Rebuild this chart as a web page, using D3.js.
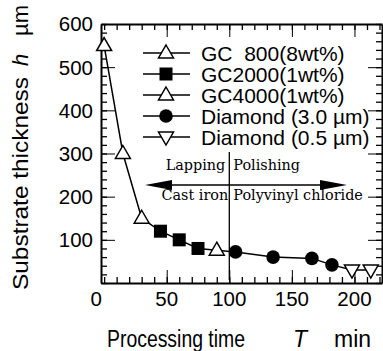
<!DOCTYPE html>
<html>
<head>
<meta charset="utf-8">
<script src="https://cdn.jsdelivr.net/npm/d3@7"></script>
<style>
  body { margin: 0; background: #fff; }
  svg { display: block; }
  text { font-family: "Liberation Sans", Arial, sans-serif; fill: #000; white-space: pre; }
</style>
</head>
<body>
<svg id="chart"></svg>
<script>
const width = 383;
const height = 351;

// series (processing time T min, thickness h um)
const gc800 = [[0, 550], [15, 300], [30, 150]];
const gc2000 = [[45, 120], [60, 100], [75, 80]];
const gc4000 = [[90, 76]];
const dia30 = [[105, 72], [135, 60], [166, 57], [182, 42]];
const dia05 = [[198, 30], [213, 30]];

const legendLabels = ["GC  800(8wt%)", "GC2000(1wt%)", "GC4000(1wt%)", "Diamond (3.0 \u00b5m)", "Diamond (0.5 \u00b5m)"];
const xTicks = [0, 50, 100, 150, 200];
const yTicks = [100, 200, 300, 400, 500, 600];
const boundary = 100;

const svg = d3.select("#chart")
    .attr("width", width)
    .attr("height", height);

const x = d3.scaleLinear().domain([-2.5, 222]).range([101, 382]);
const y = d3.scaleLinear().domain([0, 600]).range([283, 24]);

const series = [
  { data: gc800, shape: "tri" },
  { data: gc2000, shape: "square" },
  { data: gc4000, shape: "tri" },
  { data: dia30, shape: "circle" },
  { data: dia05, shape: "itri" }
];

// axes, ticks pointing inward on all four sides
const xMinor = d3.range(0, 221, 10);
const yMinor = d3.range(0, 601, 20);

function styleAxis(g) {
  g.select(".domain").attr("stroke-width", 2);
  g.selectAll(".tick line").attr("stroke-width", 1.3);
}

svg.append("g").attr("transform", `translate(0,${y(0)})`)
    .call(d3.axisBottom(x).tickValues(xMinor).tickSize(-6).tickFormat("").tickSizeOuter(0))
    .call(styleAxis);
svg.append("g").attr("transform", `translate(0,${y(0)})`)
    .call(d3.axisBottom(x).tickValues(xTicks.slice(1)).tickSize(-13).tickFormat("").tickSizeOuter(0))
    .call(g => g.select(".domain").remove());
svg.append("g").attr("transform", `translate(0,${y(600)})`)
    .call(d3.axisTop(x).tickValues(xMinor).tickSize(-6).tickFormat("").tickSizeOuter(0))
    .call(styleAxis);
svg.append("g").attr("transform", `translate(0,${y(600)})`)
    .call(d3.axisTop(x).tickValues(xTicks.slice(1)).tickSize(-13).tickFormat("").tickSizeOuter(0))
    .call(g => g.select(".domain").remove());

svg.append("g").attr("transform", `translate(${x.range()[0]},0)`)
    .call(d3.axisLeft(y).tickValues(yMinor).tickSize(-6).tickFormat("").tickSizeOuter(0))
    .call(styleAxis);
svg.append("g").attr("transform", `translate(${x.range()[0]},0)`)
    .call(d3.axisLeft(y).tickValues(yTicks).tickSize(-14).tickFormat("").tickSizeOuter(0))
    .call(g => g.select(".domain").remove());
svg.append("g").attr("transform", `translate(${x.range()[1]},0)`)
    .call(d3.axisRight(y).tickValues(yMinor).tickSize(-6).tickFormat("").tickSizeOuter(0))
    .call(styleAxis);
svg.append("g").attr("transform", `translate(${x.range()[1]},0)`)
    .call(d3.axisRight(y).tickValues(yTicks).tickSize(-14).tickFormat("").tickSizeOuter(0))
    .call(g => g.select(".domain").remove());

svg.selectAll("g .tick line").attr("stroke", "#000");
svg.selectAll("g .domain").attr("stroke", "#000");

// tick labels
svg.append("g").selectAll("text")
    .data(yTicks)
    .join("text")
    .attr("x", 93)
    .attr("y", d => y(d))
    .attr("dy", "0.36em")
    .attr("text-anchor", "end")
    .attr("font-size", 20.5)
    .text(d => d);

svg.append("g").selectAll("text")
    .data(xTicks)
    .join("text")
    .attr("x", d => x(d) - (d === 0 ? 8 : 0))
    .attr("y", 306)
    .attr("text-anchor", "middle")
    .attr("font-size", 20.5)
    .text(d => d);

// axis titles
svg.append("text")
    .attr("x", 107)
    .attr("y", 347)
    .attr("font-size", 23)
    .attr("textLength", 138)
    .attr("lengthAdjust", "spacingAndGlyphs")
    .text("Processing time");
svg.append("text")
    .attr("x", 293)
    .attr("y", 347)
    .attr("font-size", 23)
    .attr("font-style", "italic")
    .text("T");
svg.append("text")
    .attr("x", 334)
    .attr("y", 347)
    .attr("font-size", 23)
    .text("min");

const yTitle = svg.append("g").attr("transform", "translate(28,0) rotate(-90)");
yTitle.append("text")
    .attr("x", -290)
    .attr("y", 0)
    .attr("font-size", 22)
    .attr("textLength", 213)
    .attr("lengthAdjust", "spacingAndGlyphs")
    .text("Substrate thickness");
yTitle.append("text")
    .attr("x", -66)
    .attr("y", 0)
    .attr("font-size", 22)
    .attr("font-style", "italic")
    .text("h");
yTitle.append("text")
    .attr("x", -36)
    .attr("y", 0)
    .attr("font-size", 22)
    .text("\u00b5m");

// lapping / polishing annotation
svg.append("line")
    .attr("x1", x(boundary)).attr("x2", x(boundary))
    .attr("y1", 152).attr("y2", 280)
    .attr("stroke", "#000").attr("stroke-width", 1.3);

const ann = svg.append("g").attr("font-size", 14.4);
ann.append("text").attr("x", x(boundary) - 4).attr("y", 170).attr("text-anchor", "end")
    .style("font-family", "DejaVu Serif").text("Lapping");
ann.append("text").attr("x", x(boundary) + 4).attr("y", 170)
    .style("font-family", "DejaVu Serif").text("Polishing");
ann.append("text").attr("x", x(boundary) - 1).attr("y", 200).attr("text-anchor", "end")
    .style("font-family", "DejaVu Serif").text("Cast iron");
ann.append("text").attr("x", x(boundary) + 4).attr("y", 200)
    .style("font-family", "DejaVu Serif").text("Polyvinyl chloride");

const arrowY = 185;
svg.append("line")
    .attr("x1", 160).attr("x2", 335)
    .attr("y1", arrowY).attr("y2", arrowY)
    .attr("stroke", "#000").attr("stroke-width", 1.3);
svg.append("path")
    .attr("d", `M145,${arrowY} L172,${arrowY - 5} L172,${arrowY + 5} Z`)
    .attr("fill", "#000");
svg.append("path")
    .attr("d", `M347,${arrowY} L320,${arrowY - 5} L320,${arrowY + 5} Z`)
    .attr("fill", "#000");

// connecting line
const allPoints = series.flatMap(s => s.data).sort((a, b) => a[0] - b[0]);
svg.append("path")
    .datum(allPoints)
    .attr("d", d3.line().x(d => x(d[0])).y(d => y(d[1])))
    .attr("fill", "none")
    .attr("stroke", "#000")
    .attr("stroke-width", 1.5);

// markers
function drawMarker(g, shape) {
  if (shape === "tri") {
    g.append("path").attr("d", "M0,-8 L7.5,5 L-7.5,5 Z")
      .attr("fill", "#fff").attr("stroke", "#000").attr("stroke-width", 1.5);
  } else if (shape === "itri") {
    g.append("path").attr("d", "M0,8 L7.5,-5 L-7.5,-5 Z")
      .attr("fill", "#fff").attr("stroke", "#000").attr("stroke-width", 1.5);
  } else if (shape === "square") {
    g.append("rect").attr("x", -6.5).attr("y", -6.5).attr("width", 13).attr("height", 13)
      .attr("fill", "#000");
  } else {
    g.append("circle").attr("r", 6.8).attr("fill", "#000");
  }
}

series.forEach(s => {
  s.data.forEach(d => {
    const g = svg.append("g").attr("transform", `translate(${x(d[0])},${y(d[1])})`);
    drawMarker(g, s.shape);
  });
});

// legend
const legend = svg.append("g");
series.forEach((s, i) => {
  const ly = 53 + i * 21;
  legend.append("line")
    .attr("x1", 143).attr("x2", 190)
    .attr("y1", ly).attr("y2", ly)
    .attr("stroke", "#000").attr("stroke-width", 1.5);
  const g = legend.append("g").attr("transform", `translate(166,${ly})`);
  drawMarker(g, s.shape);
  legend.append("text")
    .attr("x", 201)
    .attr("y", ly + 8)
    .attr("font-size", 21)
    .text(legendLabels[i]);
});
</script>
</body>
</html>
